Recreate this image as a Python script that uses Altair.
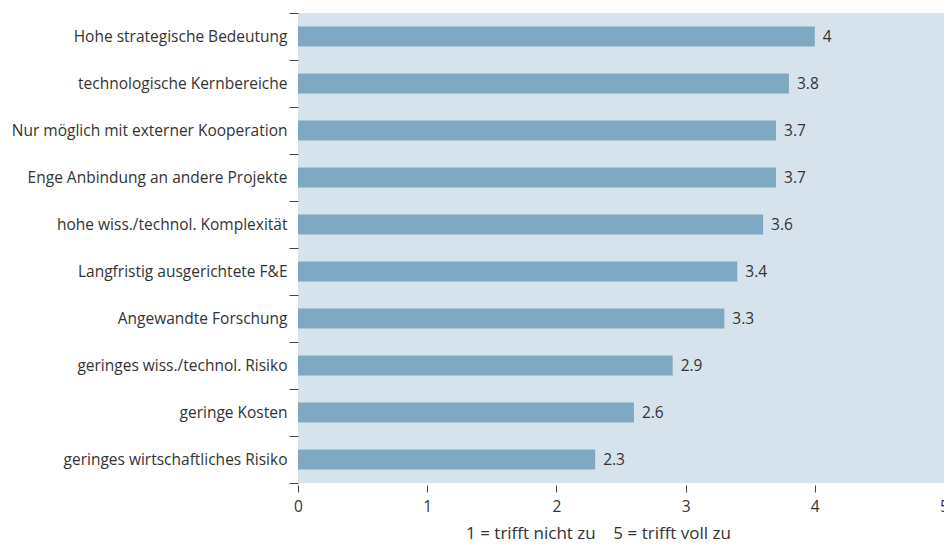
import altair as alt
import pandas as pd

categories = [
    "Hohe strategische Bedeutung",
    "technologische Kernbereiche",
    "Nur möglich mit externer Kooperation",
    "Enge Anbindung an andere Projekte",
    "hohe wiss./technol. Komplexität",
    "Langfristig ausgerichtete F&E",
    "Angewandte Forschung",
    "geringes wiss./technol. Risiko",
    "geringe Kosten",
    "geringes wirtschaftliches Risiko",
]
values = [4, 3.8, 3.7, 3.7, 3.6, 3.4, 3.3, 2.9, 2.6, 2.3]
x_ticks = [0, 1, 2, 3, 4, 5]
x_title = "1 = trifft nicht zu\u00a0\u00a0\u00a0\u00a05 = trifft voll zu"

df = pd.DataFrame({"cat": categories, "val": values})
df["label"] = df["val"].map(lambda v: f"{v:g}")

FONT = "Open Sans"
TXT = "#333333"
FS = 15.5

x_enc = alt.X(
    "val:Q",
    scale=alt.Scale(domain=[0, 5], nice=False),
    axis=alt.Axis(
        values=x_ticks,
        format="d",
        title=x_title,
        titleX=300,
        titleAlign="center",
        titleFont=FONT,
        titleFontSize=17,
        titleFontWeight="normal",
        titleColor=TXT,
        titlePadding=11,
        labelFont=FONT,
        labelFontSize=FS,
        labelColor=TXT,
        labelPadding=7,
        domain=False,
        grid=False,
        ticks=True,
        tickColor="#444444",
        tickSize=7,
        offset=2,
        labelFlush=False,
    ),
)
y_enc = alt.Y(
    "cat:N",
    sort=categories,
    scale=alt.Scale(paddingInner=0, paddingOuter=0),
    axis=alt.Axis(
        title=None,
        labelFont=FONT,
        labelFontSize=FS,
        labelColor=TXT,
        labelPadding=2,
        domain=False,
        tickBand="extent",
        ticks=True,
        tickColor="#444444",
        tickSize=9,
        grid=False,
        labelLimit=320,
    ),
)

bars = alt.Chart(df).mark_bar(color="#7fa9c2", size=20).encode(x=x_enc, y=y_enc)
text = alt.Chart(df).mark_text(
    align="left", baseline="middle", dx=8, font=FONT, fontSize=FS, color=TXT
).encode(
    x=alt.X("val:Q"),
    y=alt.Y("cat:N", sort=categories),
    text="label:N",
)

chart = (
    alt.layer(bars, text)
    .properties(
        width=646,
        height=470,
        autosize=alt.AutoSizeParams(type="none"),
        padding={"left": 290, "top": 5, "right": 0, "bottom": 62},
    )
    .configure_view(stroke=None, fill="#d6e2ec")
)

chart.save("out.html", embed_options={"renderer": "svg", "actions": False})
